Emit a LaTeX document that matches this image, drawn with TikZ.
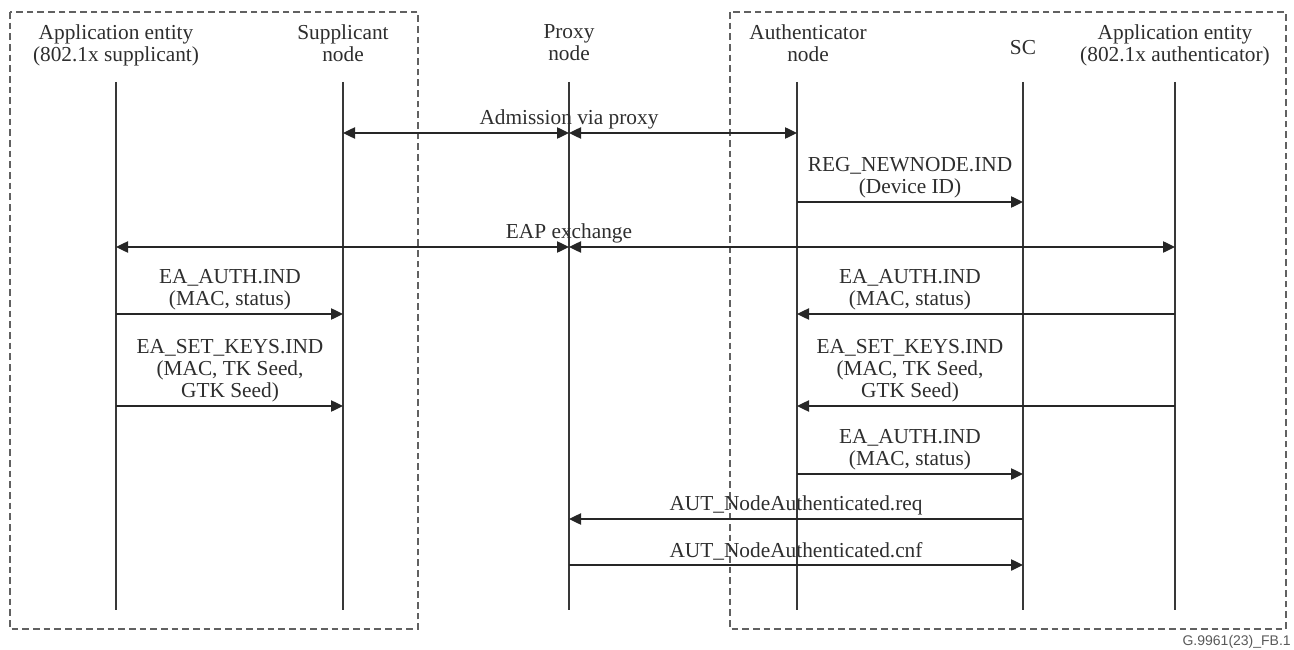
\documentclass[tikz,border=0pt]{standalone}
\usepackage{fontspec}
\setmainfont{Liberation Serif}
\newfontfamily\figidfont{Liberation Sans}
\usetikzlibrary{arrows.meta}
\begin{document}
\begin{tikzpicture}[x=0.75pt,y=-0.75pt,
  lifeline/.style={draw=black!78, line width=1pt},
  tip/.tip={Triangle[length=9pt,width=8.5pt]},
  msg/.style={draw=black!85, line width=1pt, -tip},
  bimsg/.style={draw=black!85, line width=1pt, tip-tip},
  grp/.style={draw=black!62, line width=1pt, dash pattern=on 5pt off 3pt},
  head/.style={align=center, font=\fontsize{16}{16.5}\selectfont, inner sep=0pt, text=black!82, anchor=north},
  lbl/.style={align=center, font=\fontsize{16}{16.5}\selectfont, inner sep=0pt, text=black!82, anchor=south},
]
\useasboundingbox (0,0) rectangle (1294,649);

% groups
\draw[grp] (10,12) rectangle (418,629);
\draw[grp] (730,12) rectangle (1286,629);

% headers
\node[head] (h-ae1) at (116,24) {Application entity\\(802.1x supplicant)};
\node[head] (h-sup) at (343,24) {Supplicant\\node};
\node[head] (h-prx) at (569,24) {Proxy\\node};
\node[head] (h-aut) at (808,24) {Authenticator\\node};
\node[head] (h-sc)  at (1023,40) {SC};
\node[head] (h-ae2) at (1175,24) {Application entity\\(802.1x authenticator)};

% lifelines
\foreach \n/\x in {ae1/116, sup/343, prx/569, aut/797, sc/1023, ae2/1175} {
  \coordinate (\n-top) at (\x,82);
  \coordinate (\n-bot) at (\x,610);
  \draw[lifeline] (\n-top) -- (\n-bot);
}

% messages
\draw[bimsg] (sup-top |- 0,133) -- (prx-top |- 0,133);
\draw[bimsg] (prx-top |- 0,133) -- (aut-top |- 0,133);
\node[lbl] (l-adm) at (569,129) {Admission via proxy};

\draw[msg] (aut-top |- 0,202) -- (sc-top |- 0,202);
\node[lbl] (l-reg) at (910,198) {REG\_NEWNODE.IND\\(Device ID)};

\draw[bimsg] (ae1-top |- 0,247) -- (prx-top |- 0,247);
\draw[bimsg] (prx-top |- 0,247) -- (ae2-top |- 0,247);
\node[lbl] (l-eap) at (569,243) {EAP exchange};

\draw[msg] (ae1-top |- 0,314) -- (sup-top |- 0,314);
\node[lbl] (l-auth1) at (230,310) {EA\_AUTH.IND\\(MAC, status)};
\draw[msg] (ae2-top |- 0,314) -- (aut-top |- 0,314);
\node[lbl] (l-auth2) at (910,310) {EA\_AUTH.IND\\(MAC, status)};

\draw[msg] (ae1-top |- 0,406) -- (sup-top |- 0,406);
\node[lbl] (l-keys1) at (230,402) {EA\_SET\_KEYS.IND\\(MAC, TK Seed,\\GTK Seed)};
\draw[msg] (ae2-top |- 0,406) -- (aut-top |- 0,406);
\node[lbl] (l-keys2) at (910,402) {EA\_SET\_KEYS.IND\\(MAC, TK Seed,\\GTK Seed)};

\draw[msg] (aut-top |- 0,474) -- (sc-top |- 0,474);
\node[lbl] (l-auth3) at (910,470) {EA\_AUTH.IND\\(MAC, status)};

\draw[msg] (sc-top |- 0,519) -- (prx-top |- 0,519);
\node[lbl] (l-req) at (796,515) {AUT\_NodeAuthenticated.req};

\draw[msg] (prx-top |- 0,565) -- (sc-top |- 0,565);
\node[lbl] (l-cnf) at (796,561) {AUT\_NodeAuthenticated.cnf};

% figure id
\node[font=\figidfont\fontsize{10.5}{12}\selectfont, text=black!65, anchor=base east, inner sep=0pt] (figid) at (1291,645) {G.9961(23)\_FB.1};
\end{tikzpicture}
\end{document}
